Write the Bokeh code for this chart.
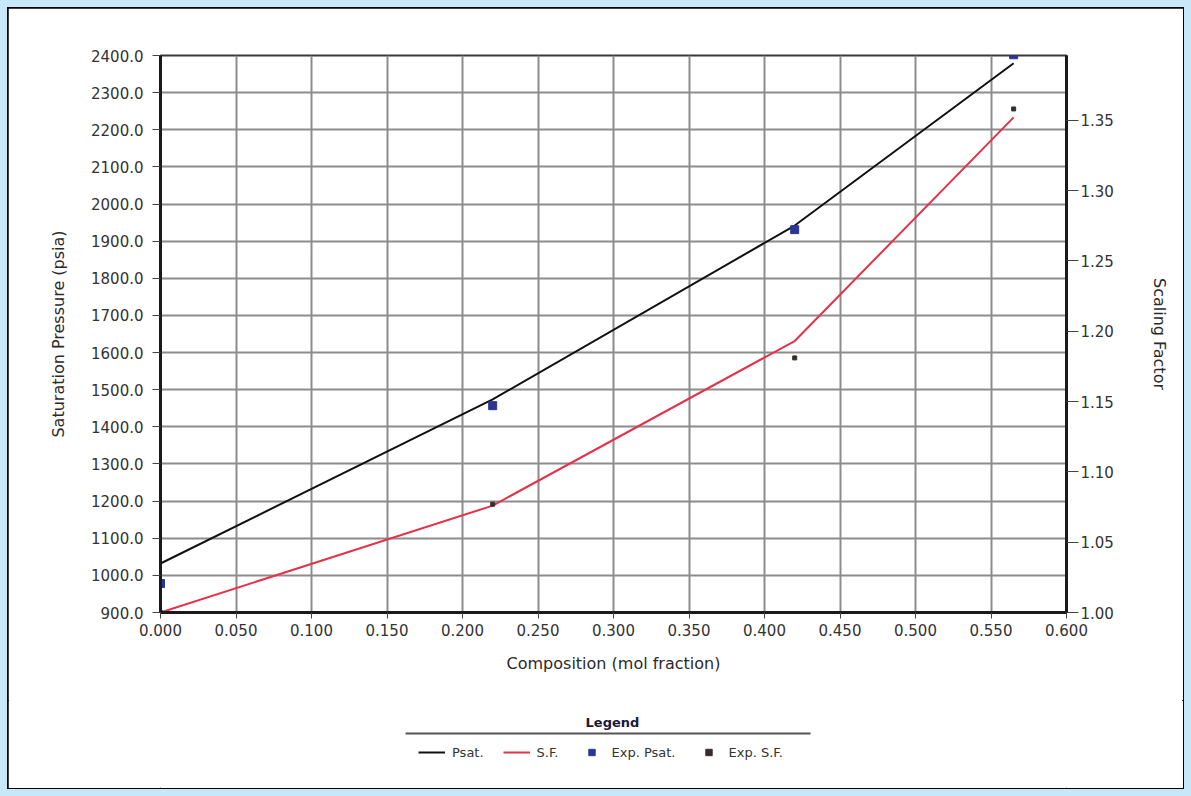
from bokeh.plotting import figure
from bokeh.layouts import column
from bokeh.models import (Range1d, LinearAxis, FixedTicker, NumeralTickFormatter,
                          Legend, LegendItem, Label, Arrow)
from bokeh.embed import file_html
from bokeh.resources import INLINE

# ---- data ----
composition = [0.0, 0.22, 0.42, 0.565]
psat_calc = [1032, 1474, 1942, 2379]
sf_calc = [1.000, 1.076, 1.193, 1.352]
exp_psat = [978, 1457, 1931, 2402]
exp_sf = [1.000, 1.077, 1.181, 1.358]

x_ticks = [0.0, 0.05, 0.10, 0.15, 0.20, 0.25, 0.30, 0.35, 0.40, 0.45, 0.50, 0.55, 0.60]
p_ticks = [900, 1000, 1100, 1200, 1300, 1400, 1500, 1600, 1700, 1800, 1900, 2000,
           2100, 2200, 2300, 2400]
sf_ticks = [1.00, 1.05, 1.10, 1.15, 1.20, 1.25, 1.30, 1.35]

x_label = "Composition (mol fraction)"
y_label = "Saturation Pressure (psia)"
y2_label = "Scaling Factor"
legend_title = "Legend"
series_names = ["Psat.", "S.F.", "Exp. Psat.", "Exp. S.F."]

FONT = "DejaVu Sans"
C_PSAT = "#111111"
C_SF = "#e3324a"
C_EXP_P = "#2b3594"
C_EXP_SF = "#3a2c2c"

# ---------------- main chart ----------------
p = figure(width=1175, height=692, output_backend="svg", toolbar_location=None,
           x_range=Range1d(0.0, 0.6), y_range=Range1d(900, 2400),
           min_border_left=152, min_border_right=117, min_border_top=47,
           min_border_bottom=88)
p.extra_y_ranges = {"sf": Range1d(1.0, 1.396)}
p.background_fill_color = "white"
p.border_fill_color = "white"
p.outline_line_color = "#3a3a3a"
p.outline_line_width = 2

p.xgrid.ticker = FixedTicker(ticks=x_ticks)
p.ygrid.ticker = FixedTicker(ticks=p_ticks)
for g in (p.xgrid, p.ygrid):
    g.grid_line_color = "#8c8c8c"
    g.grid_line_width = 2

xa = p.xaxis[0]
xa.ticker = FixedTicker(ticks=x_ticks)
xa.formatter = NumeralTickFormatter(format="0.000")
xa.axis_label = x_label
xa.axis_label_standoff = 15
xa.major_tick_out = 6
xa.major_tick_in = 0
xa.major_label_standoff = 5

ya = p.yaxis[0]
ya.ticker = FixedTicker(ticks=p_ticks)
ya.formatter = NumeralTickFormatter(format="0.0")
ya.axis_label = y_label
ya.axis_label_standoff = 20
ya.major_tick_out = 8
ya.major_tick_in = 0
ya.major_label_standoff = 9

ra = LinearAxis(y_range_name="sf", ticker=FixedTicker(ticks=sf_ticks),
                formatter=NumeralTickFormatter(format="0.00"))
ra.axis_label = y2_label
ra.axis_label_standoff = 33
ra.major_tick_out = 12
ra.major_tick_in = 0
ra.major_label_standoff = 2
p.add_layout(ra, "right")

for ax in (xa, ya, ra):
    ax.minor_tick_line_color = None
    ax.axis_line_color = "#1a1a1a"
    ax.axis_line_width = 3
    ax.major_tick_line_color = "#444444"
    ax.major_label_text_font = FONT
    ax.major_label_text_font_size = "15px"
    ax.major_label_text_color = "#333333"
    ax.axis_label_text_font = FONT
    ax.axis_label_text_font_size = "16px"
    ax.axis_label_text_font_style = "normal"
    ax.axis_label_text_color = "#2a2a2a"

p.line(composition, psat_calc, line_color=C_PSAT, line_width=2)
p.line(composition, sf_calc, line_color=C_SF, line_width=2, y_range_name="sf")
p.scatter(composition, exp_psat, marker="square", size=8,
          fill_color=C_EXP_P, line_color=C_EXP_P)
p.scatter(composition, exp_sf, marker="square", size=4,
          fill_color=C_EXP_SF, line_color=C_EXP_SF, y_range_name="sf")

# ---------------- legend strip ----------------
lg = figure(width=1175, height=88, output_backend="svg", toolbar_location=None,
            x_range=Range1d(0.0, 0.6), y_range=Range1d(0, 88),
            x_axis_type=None, y_axis_type=None,
            min_border_left=152, min_border_right=117, min_border_top=0,
            min_border_bottom=0)
lg.outline_line_color = None
lg.background_fill_color = "white"
lg.border_fill_color = "white"
lg.extra_y_ranges = {"sf": Range1d(1.0, 1.396)}

l1 = lg.line(composition, psat_calc, line_color=C_PSAT, line_width=2, visible=False)
l2 = lg.line(composition, sf_calc, line_color=C_SF, line_width=2, y_range_name="sf",
             visible=False)
l3 = lg.scatter(composition, exp_psat, marker="square", size=8,
                fill_color=C_EXP_P, line_color=C_EXP_P, visible=False)
l4 = lg.scatter(composition, exp_sf, marker="square", size=4,
                fill_color=C_EXP_SF, line_color=C_EXP_SF, y_range_name="sf", visible=False)

legend = Legend(items=[LegendItem(label=series_names[0], renderers=[l1]),
                       LegendItem(label=series_names[1], renderers=[l2]),
                       LegendItem(label=series_names[2], renderers=[l3]),
                       LegendItem(label=series_names[3], renderers=[l4])],
                orientation="horizontal", location=(258, 28),
                padding=0, margin=0, spacing=19, glyph_width=27, glyph_height=16,
                label_standoff=7, border_line_color=None, background_fill_alpha=0,
                label_text_font=FONT, label_text_font_size="13px",
                label_text_color="#333333")
lg.add_layout(legend, "center")

lg.add_layout(Label(x=0.2993, y=66, text=legend_title, text_align="center",
                    text_baseline="middle", text_font=FONT, text_font_size="13px",
                    text_font_style="bold", text_color="#1a1a3a"))
lg.add_layout(Arrow(end=None, x_start=0.1623, y_start=55, x_end=0.4305, y_end=55,
                    line_color="#555555", line_width=2))

panel = column(p, lg, margin=(8, 8, 8, 8),
               styles={"outline": "2px solid #000000", "outline-offset": "-1px",
                       "background-color": "white"})
page = column(panel, styles={"background-color": "#c6e8f8"})

open("out.html", "w").write(file_html(page, INLINE))
